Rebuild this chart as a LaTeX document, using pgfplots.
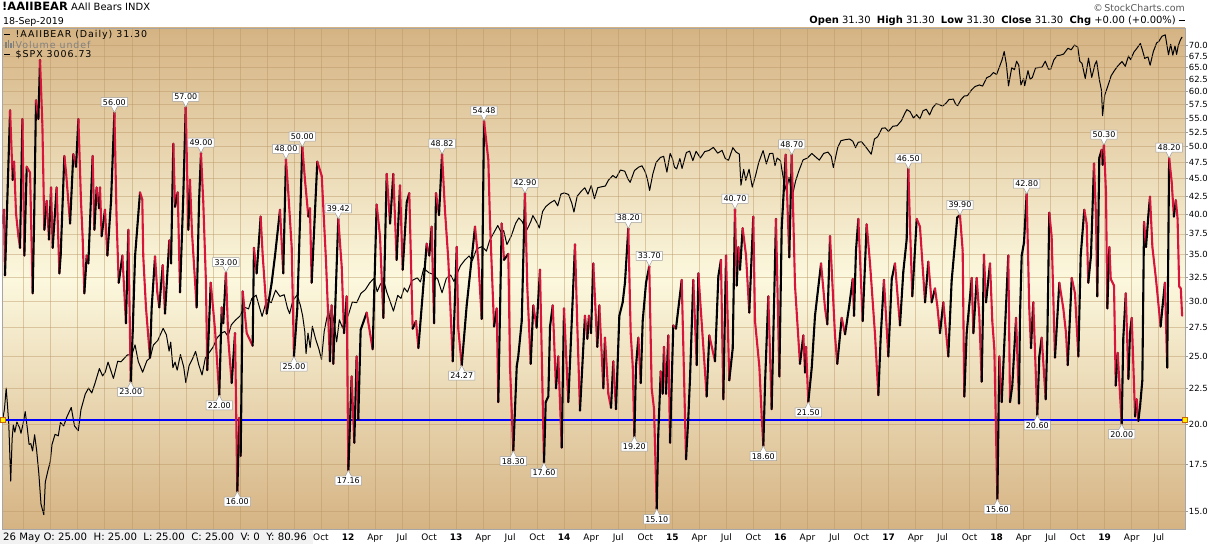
\documentclass[border=0pt]{standalone}
\usepackage{fontspec}
\setmainfont{DejaVu Sans}
\newfontfamily\legfont[LetterSpace=10]{DejaVu Sans}
\usepackage{pgfplots}
\usepackage{pgfplotstable}
\pgfplotsset{compat=1.18}
\usetikzlibrary{shapes.callouts}
\definecolor{tanc}{RGB}{213,179,131}
\definecolor{creamc}{RGB}{252,248,222}
\definecolor{gridc}{RGB}{185,150,100}
\definecolor{bearred}{RGB}{215,20,60}

\pgfplotstableread{
yr v
2008.812 38.8
2008.818 40.6
2008.827 32.7
2008.874 56.4
2008.898 44.8
2008.911 47.6
2008.929 40.1
2008.951 37.2
2008.966 35.8
2008.988 54.8
2009.006 34.9
2009.028 46.8
2009.059 45.9
2009.083 30.8
2009.096 38.8
2009.114 58.3
2009.136 54.8
2009.151 66.6
2009.173 53.6
2009.191 38.0
2009.213 41.8
2009.234 36.8
2009.253 43.7
2009.268 35.8
2009.305 43.7
2009.330 32.9
2009.342 34.9
2009.376 48.5
2009.392 45.9
2009.429 38.8
2009.459 48.8
2009.484 46.8
2009.506 54.8
2009.530 41.8
2009.546 36.8
2009.561 30.8
2009.583 34.9
2009.598 34.0
2009.638 48.5
2009.654 38.0
2009.675 43.7
2009.697 40.8
2009.706 43.7
2009.721 37.2
2009.752 40.6
2009.774 34.9
2009.808 41.8
2009.839 56.0
2009.860 39.0
2009.879 31.9
2009.913 34.9
2009.946 27.9
2009.968 38.0
2009.990 23.0
2010.008 27.0
2010.030 34.8
2010.076 43.0
2010.097 42.0
2010.106 34.8
2010.131 29.4
2010.168 24.9
2010.184 29.4
2010.215 34.8
2010.236 30.9
2010.254 29.4
2010.286 33.8
2010.307 28.8
2010.347 36.7
2010.363 34.0
2010.384 50.5
2010.400 41.0
2010.425 43.0
2010.446 30.9
2010.476 42.4
2010.499 57.0
2010.523 38.0
2010.538 44.8
2010.557 37.6
2010.600 29.4
2010.622 41.7
2010.640 49.0
2010.661 41.7
2010.686 31.9
2010.698 23.9
2010.730 31.9
2010.770 27.3
2010.809 22.0
2010.832 29.4
2010.846 27.9
2010.871 33.0
2010.893 26.4
2010.924 22.9
2010.955 27.0
2010.976 16.0
2010.994 20.4
2011.007 18.0
2011.026 31.0
2011.063 27.0
2011.118 25.9
2011.130 35.8
2011.155 32.9
2011.192 39.7
2011.211 34.9
2011.248 28.8
2011.294 31.9
2011.325 34.9
2011.371 40.6
2011.401 32.9
2011.426 48.0
2011.448 42.9
2011.479 35.9
2011.500 25.0
2011.531 29.3
2011.577 50.0
2011.602 44.8
2011.633 39.7
2011.648 40.8
2011.664 31.9
2011.716 47.6
2011.757 45.4
2011.796 34.4
2011.833 24.6
2011.849 29.6
2011.864 24.4
2011.910 39.42
2011.942 33.6
2011.963 27.0
2011.988 30.5
2012.003 17.16
2012.034 23.4
2012.058 18.8
2012.080 25.0
2012.095 20.3
2012.117 27.3
2012.173 28.9
2012.228 25.6
2012.265 41.3
2012.296 37.2
2012.327 28.4
2012.358 45.7
2012.389 38.8
2012.419 45.7
2012.450 34.4
2012.481 44.0
2012.506 33.3
2012.543 41.6
2012.567 42.9
2012.598 27.4
2012.629 28.1
2012.651 25.7
2012.728 36.3
2012.752 34.9
2012.774 38.4
2012.796 27.9
2012.814 42.9
2012.842 39.9
2012.870 48.82
2012.897 40.5
2012.928 34.4
2012.969 24.6
2013.006 35.9
2013.020 27.4
2013.052 24.27
2013.098 29.6
2013.175 38.4
2013.205 34.4
2013.237 28.3
2013.258 54.48
2013.298 47.9
2013.314 38.8
2013.351 27.6
2013.376 29.3
2013.390 21.5
2013.422 38.8
2013.443 34.4
2013.483 35.1
2013.499 24.1
2013.529 18.3
2013.561 24.2
2013.575 25.0
2013.607 28.1
2013.637 42.9
2013.659 31.3
2013.690 24.4
2013.714 29.6
2013.745 27.5
2013.776 33.3
2013.813 17.6
2013.829 21.5
2013.853 21.9
2013.869 27.6
2013.894 29.6
2013.924 22.5
2013.945 25.0
2013.977 18.5
2013.998 29.3
2014.038 21.5
2014.100 36.2
2014.121 27.7
2014.146 20.9
2014.192 28.6
2014.214 26.5
2014.229 28.6
2014.248 27.0
2014.269 34.0
2014.306 25.8
2014.325 29.6
2014.362 22.5
2014.377 26.6
2014.408 22.1
2014.433 21.1
2014.454 24.6
2014.479 21.0
2014.510 28.6
2014.541 29.9
2014.562 31.9
2014.593 38.2
2014.615 27.0
2014.634 24.2
2014.649 19.2
2014.664 24.2
2014.686 26.6
2014.708 22.9
2014.726 28.1
2014.757 31.9
2014.787 33.7
2014.809 22.5
2014.831 21.0
2014.856 15.1
2014.870 19.3
2014.893 23.8
2014.911 22.1
2014.923 25.8
2014.942 22.1
2014.963 26.8
2014.979 18.8
2015.009 27.7
2015.034 27.4
2015.087 32.2
2015.127 17.8
2015.148 20.4
2015.164 23.3
2015.194 32.2
2015.226 24.3
2015.241 32.9
2015.318 21.9
2015.342 26.8
2015.395 24.6
2015.426 32.6
2015.450 34.4
2015.472 21.7
2015.497 34.9
2015.527 23.1
2015.559 25.7
2015.580 40.7
2015.596 31.6
2015.611 35.9
2015.626 33.3
2015.651 38.2
2015.682 34.9
2015.712 28.9
2015.749 39.7
2015.765 28.1
2015.805 24.2
2015.827 20.5
2015.842 18.6
2015.858 22.9
2015.888 30.5
2015.919 21.0
2015.959 39.4
2015.990 23.4
2016.012 38.2
2016.049 48.7
2016.082 34.7
2016.105 48.7
2016.135 31.6
2016.181 24.4
2016.212 26.8
2016.228 23.7
2016.237 25.8
2016.258 21.5
2016.290 24.1
2016.320 28.6
2016.376 34.0
2016.413 29.3
2016.434 27.8
2016.459 37.2
2016.505 26.8
2016.526 24.4
2016.567 28.4
2016.598 26.9
2016.637 29.6
2016.669 32.3
2016.681 28.6
2016.699 35.5
2016.721 39.4
2016.761 28.1
2016.798 38.7
2016.829 34.0
2016.875 26.9
2016.906 22.0
2016.928 26.7
2016.958 32.2
2016.998 25.0
2017.030 32.3
2017.060 34.0
2017.106 27.7
2017.137 33.1
2017.168 36.8
2017.183 46.5
2017.199 38.4
2017.220 30.5
2017.261 39.4
2017.291 38.4
2017.338 29.9
2017.368 34.2
2017.399 29.9
2017.430 31.3
2017.451 29.6
2017.476 27.0
2017.507 29.9
2017.553 25.0
2017.584 32.1
2017.636 39.6
2017.661 39.9
2017.686 35.5
2017.701 21.9
2017.723 27.0
2017.738 28.6
2017.770 32.4
2017.785 27.0
2017.816 32.4
2017.840 28.6
2017.862 23.0
2017.883 35.0
2017.902 29.9
2017.939 34.0
2017.960 28.1
2017.979 25.6
2018.007 15.6
2018.025 25.0
2018.047 21.5
2018.108 34.9
2018.124 21.5
2018.145 22.7
2018.180 28.4
2018.207 21.4
2018.216 28.5
2018.232 34.9
2018.253 36.4
2018.278 42.8
2018.302 29.3
2018.318 25.7
2018.339 29.9
2018.376 20.6
2018.395 25.0
2018.417 26.6
2018.454 21.7
2018.469 26.3
2018.487 40.2
2018.509 37.2
2018.540 24.9
2018.580 31.9
2018.617 29.3
2018.642 27.0
2018.658 24.3
2018.695 32.4
2018.725 30.8
2018.756 25.0
2018.778 34.9
2018.811 40.6
2018.833 38.8
2018.848 31.9
2018.873 34.9
2018.901 47.3
2018.920 39.4
2018.931 30.5
2018.950 48.2
2018.972 49.5
2018.981 47.1
2018.993 50.3
2019.012 42.9
2019.024 29.3
2019.043 35.9
2019.056 32.3
2019.086 31.6
2019.102 22.7
2019.120 25.3
2019.157 20.0
2019.172 26.6
2019.195 30.8
2019.219 23.2
2019.234 27.0
2019.250 28.4
2019.281 20.5
2019.296 21.7
2019.311 20.2
2019.327 21.2
2019.348 23.1
2019.364 39.0
2019.382 35.9
2019.404 39.9
2019.419 42.4
2019.441 35.9
2019.475 32.2
2019.517 27.6
2019.535 29.5
2019.557 31.9
2019.578 24.1
2019.596 48.2
2019.619 44.6
2019.640 39.7
2019.658 41.9
2019.674 39.4
2019.689 31.5
2019.704 31.3
2019.716 28.6
}\bears

% dn = 1 when the segment leaving this point falls (drawn red), 0 when it rises (black)
\pgfplotstablecreatecol[
  create col/assign/.code={%
    \getthisrow{v}\curv
    \getnextrow{v}\nxtv
    \ifx\nxtv\empty
      \def\res{1}%
    \else
      \pgfmathparse{(\nxtv<\curv) ? 1 : 0}\let\res\pgfmathresult
    \fi
    \pgfkeyslet{/pgfplots/table/create col/next content}\res
  }]{dn}{\bears}

\pgfplotstableread{
yr s
2008.804 908
2008.822 941
2008.838 1005
2008.850 952
2008.862 899
2008.880 752
2008.893 858
2008.904 896
2008.918 876
2008.937 904
2008.962 888
2008.975 873
2008.997 903
2009.014 934
2009.032 890
2009.050 843
2009.066 845
2009.082 826
2009.101 869
2009.120 827
2009.140 770
2009.160 700
2009.186 677
2009.200 750
2009.225 778
2009.245 798
2009.262 843
2009.290 870
2009.320 866
2009.340 903
2009.370 893
2009.400 919
2009.440 946
2009.470 893
2009.505 880
2009.530 940
2009.570 987
2009.600 1005
2009.630 990
2009.660 1021
2009.700 1068
2009.730 1044
2009.755 1057
2009.780 1090
2009.830 1036
2009.870 1093
2009.900 1091
2009.930 1103
2009.960 1115
2010.000 1115
2010.030 1150
2010.060 1092
2010.080 1074
2010.100 1056
2010.140 1095
2010.170 1104
2010.200 1150
2010.240 1166
2010.290 1211
2010.320 1187
2010.345 1128
2010.360 1160
2010.380 1071
2010.400 1090
2010.420 1063
2010.450 1116
2010.480 1074
2010.500 1022
2010.530 1078
2010.560 1100
2010.590 1127
2010.620 1080
2010.650 1047
2010.680 1104
2010.720 1125
2010.750 1141
2010.790 1176
2010.830 1193
2010.860 1199
2010.890 1181
2010.920 1224
2010.960 1243
2011.000 1258
2011.040 1294
2011.080 1287
2011.110 1329
2011.150 1343
2011.180 1295
2011.205 1257
2011.250 1326
2011.290 1312
2011.330 1364
2011.370 1338
2011.410 1345
2011.440 1290
2011.460 1268
2011.490 1321
2011.530 1344
2011.560 1300
2011.580 1260
2011.600 1200
2011.612 1119
2011.630 1193
2011.650 1140
2011.670 1219
2011.700 1172
2011.730 1136
2011.755 1099
2011.780 1200
2011.820 1285
2011.840 1219
2011.860 1263
2011.895 1161
2011.920 1244
2011.950 1212
2011.980 1265
2012.000 1258
2012.040 1315
2012.080 1312
2012.120 1351
2012.160 1366
2012.200 1395
2012.240 1416
2012.270 1358
2012.300 1390
2012.330 1406
2012.360 1354
2012.390 1317
2012.420 1278
2012.460 1342
2012.490 1330
2012.520 1374
2012.550 1356
2012.590 1405
2012.640 1418
2012.670 1400
2012.700 1460
2012.750 1440
2012.790 1433
2012.830 1412
2012.870 1353
2012.910 1416
2012.950 1430
2012.980 1402
2013.000 1426
2013.040 1472
2013.080 1498
2013.120 1518
2013.150 1496
2013.190 1552
2013.240 1563
2013.280 1541
2013.310 1593
2013.350 1633
2013.385 1669
2013.420 1631
2013.440 1643
2013.470 1573
2013.510 1615
2013.550 1680
2013.580 1709
2013.610 1691
2013.650 1642
2013.690 1688
2013.710 1722
2013.750 1682
2013.770 1656
2013.800 1744
2013.830 1771
2013.870 1791
2013.910 1806
2013.940 1775
2013.970 1842
2014.000 1848
2014.040 1839
2014.070 1790
2014.090 1741
2014.120 1829
2014.160 1859
2014.190 1878
2014.220 1841
2014.250 1891
2014.280 1815
2014.310 1878
2014.340 1883
2014.380 1888
2014.410 1924
2014.450 1951
2014.480 1936
2014.520 1985
2014.560 1978
2014.590 1930
2014.610 1910
2014.650 1982
2014.690 2003
2014.720 2011
2014.750 1972
2014.770 1928
2014.790 1862
2014.820 1961
2014.850 2032
2014.890 2064
2014.920 2071
2014.950 1972
2014.980 2090
2015.000 2059
2015.020 2003
2015.040 1992
2015.070 2057
2015.090 1995
2015.130 2096
2015.160 2105
2015.190 2044
2015.220 2104
2015.260 2061
2015.300 2102
2015.340 2110
2015.380 2130
2015.420 2092
2015.460 2110
2015.490 2057
2015.520 2046
2015.560 2128
2015.590 2099
2015.620 2086
2015.635 1893
2015.660 1989
2015.680 1922
2015.710 1990
2015.740 1882
2015.770 1951
2015.800 2033
2015.840 2109
2015.870 2023
2015.900 2089
2015.930 2091
2015.950 2012
2015.970 2060
2016.000 2044
2016.030 1922
2016.055 1860
2016.080 1940
2016.110 1829
2016.140 1917
2016.170 1978
2016.210 2049
2016.250 2060
2016.290 2090
2016.330 2065
2016.360 2047
2016.400 2090
2016.440 2099
2016.470 2071
2016.490 2000
2016.530 2129
2016.560 2175
2016.600 2182
2016.640 2186
2016.670 2171
2016.695 2128
2016.720 2164
2016.750 2168
2016.790 2133
2016.840 2085
2016.870 2186
2016.900 2202
2016.940 2262
2016.970 2263
2017.000 2239
2017.040 2275
2017.080 2279
2017.120 2316
2017.150 2367
2017.170 2396
2017.200 2381
2017.230 2334
2017.260 2359
2017.290 2328
2017.320 2388
2017.350 2399
2017.380 2357
2017.410 2412
2017.440 2440
2017.470 2434
2017.500 2423
2017.530 2443
2017.560 2473
2017.600 2476
2017.620 2438
2017.640 2426
2017.670 2472
2017.700 2500
2017.730 2503
2017.770 2550
2017.800 2575
2017.840 2588
2017.870 2579
2017.910 2648
2017.940 2660
2017.970 2690
2018.000 2674
2018.030 2748
2018.050 2798
2018.070 2873
2018.090 2762
2018.110 2581
2018.140 2732
2018.165 2714
2018.185 2787
2018.205 2752
2018.225 2588
2018.250 2641
2018.260 2582
2018.290 2706
2018.310 2635
2018.330 2648
2018.360 2728
2018.390 2733
2018.420 2735
2018.450 2787
2018.480 2718
2018.500 2718
2018.530 2799
2018.560 2837
2018.590 2840
2018.620 2850
2018.660 2902
2018.690 2888
2018.720 2931
2018.750 2914
2018.770 2785
2018.790 2768
2018.820 2641
2018.850 2813
2018.880 2650
2018.910 2760
2018.925 2790
2018.950 2633
2018.970 2546
2018.980 2351
2019.000 2507
2019.030 2582
2019.060 2664
2019.090 2707
2019.120 2745
2019.160 2784
2019.190 2743
2019.220 2832
2019.240 2800
2019.270 2867
2019.300 2905
2019.330 2946
2019.350 2881
2019.370 2812
2019.400 2826
2019.420 2752
2019.450 2873
2019.480 2950
2019.500 2964
2019.530 3013
2019.560 3026
2019.590 2844
2019.610 2938
2019.630 2840
2019.650 2922
2019.665 2847
2019.680 2924
2019.700 2979
2019.716 3006
}\spx

\tikzset{
  lab/.style={rectangle callout, draw=gray!75, fill=white, line width=0.5bp,
    font=\fontsize{8}{9}\selectfont, inner xsep=1.8bp, inner ysep=1.5bp,
    callout pointer width=6bp},
}
\newcommand{\hilab}[3]{\node[lab, anchor=south, callout absolute pointer={(axis cs:#1,#2)}] at ([yshift=5.5bp]axis cs:#1,#2) {#3};}
\newcommand{\lolab}[3]{\node[lab, anchor=north, callout absolute pointer={(axis cs:#1,#2)}] at ([yshift=-5.5bp]axis cs:#1,#2) {#3};}

\begin{document}
\begin{tikzpicture}[x=1bp,y=1bp]
\useasboundingbox (0,0) rectangle (1212,544);
\fill[white] (0,0) rectangle (1212,544);
\shade[top color=tanc, bottom color=tanc, middle color=creamc] (2.5,14.5) rectangle (1185,516);

% S&P 500 overlay (own log scale)
\begin{axis}[at={(2.5bp,14.5bp)}, anchor=south west, scale only axis,
  width=1182.5bp, height=501.5bp,
  xmin=2008.8039, xmax=2019.7428,
  ymode=log, ymin=646.6, ymax=3091.7,
  axis line style={draw=none}, xtick=\empty, ytick=\empty]
\addplot[black, line width=1bp, line join=round] table[x=yr, y=s] {\spx};
\end{axis}

% AAII bears
\begin{axis}[at={(2.5bp,14.5bp)}, anchor=south west, scale only axis,
  width=1182.5bp, height=501.5bp,
  xmin=2008.8039, xmax=2019.7428,
  ymode=log, ymin=14.11, ymax=74.05,
  axis line style={draw=gray!70, line width=0.8bp},
  ytick={15,17.5,20,22.5,25,27.5,30,32.5,35,37.5,40,42.5,45,47.5,50,52.5,55,57.5,60,62.5,65,67.5,70},
  yticklabels={15.0,17.5,20.0,22.5,25.0,27.5,30.0,32.5,35.0,37.5,40.0,42.5,45.0,47.5,50.0,52.5,55.0,57.5,60.0,62.5,65.0,67.5,70.0},
  ytick pos=right, yticklabel pos=right,
  tick align=outside, major tick length=2.5bp,
  ytick style={draw=gray!80, line width=0.6bp},
  yticklabel style={font=\fontsize{8.5}{9}\selectfont, inner xsep=1.2bp},
  xtick={2011.75,2012,2012.25,...,2019.5},
  xticklabels={Oct,\textbf{12},Apr,Jul,Oct,\textbf{13},Apr,Jul,Oct,\textbf{14},Apr,Jul,Oct,\textbf{15},Apr,Jul,Oct,\textbf{16},Apr,Jul,Oct,\textbf{17},Apr,Jul,Oct,\textbf{18},Apr,Jul,Oct,\textbf{19},Apr,Jul},
  extra x ticks={2009,2009.25,...,2011.5},
  extra x tick labels={},
  extra x tick style={grid=major},
  xtick style={draw=none},
  xticklabel style={font=\fontsize{9}{10}\selectfont, inner ysep=1.5bp},
  xmajorgrids, ymajorgrids,
  major grid style={draw=gridc, line width=0.6bp, opacity=0.45},
  clip mode=individual]
\addplot[draw=blue, line width=2.2bp, mark=square*, mark size=2.5bp,
  mark options={fill=yellow, draw=orange!80!black, line width=0.5bp}]
  coordinates {(2008.8039,20.27) (2019.7428,20.27)};
\addplot[mesh, shader=flat corner, line width=2.1bp, line cap=round,
  point meta=\thisrow{dn}, point meta min=0, point meta max=1,
  colormap={ud}{color=(black) color=(bearred)}]
  table[x=yr, y=v] {\bears};
\hilab{2009.839}{56.0}{56.00}
\hilab{2010.499}{57.0}{57.00}
\hilab{2010.640}{49.0}{49.00}
\hilab{2010.871}{33.0}{33.00}
\hilab{2011.426}{48.0}{48.00}
\hilab{2011.577}{50.0}{50.00}
\hilab{2011.910}{39.42}{39.42}
\hilab{2012.870}{48.82}{48.82}
\hilab{2013.258}{54.48}{54.48}
\hilab{2013.637}{42.9}{42.90}
\hilab{2014.593}{38.2}{38.20}
\hilab{2014.787}{33.7}{33.70}
\hilab{2015.580}{40.7}{40.70}
\hilab{2016.105}{48.7}{48.70}
\hilab{2017.183}{46.5}{46.50}
\hilab{2017.661}{39.9}{39.90}
\hilab{2018.278}{42.8}{42.80}
\hilab{2018.993}{50.3}{50.30}
\hilab{2019.596}{48.2}{48.20}
\lolab{2009.990}{23.0}{23.00}
\lolab{2010.809}{22.0}{22.00}
\lolab{2010.976}{16.0}{16.00}
\lolab{2011.500}{25.0}{25.00}
\lolab{2012.003}{17.16}{17.16}
\lolab{2013.052}{24.27}{24.27}
\lolab{2013.529}{18.3}{18.30}
\lolab{2013.813}{17.6}{17.60}
\lolab{2014.649}{19.2}{19.20}
\lolab{2014.856}{15.1}{15.10}
\lolab{2015.842}{18.6}{18.60}
\lolab{2016.258}{21.5}{21.50}
\lolab{2018.007}{15.6}{15.60}
\lolab{2018.376}{20.6}{20.60}
\lolab{2019.157}{20.0}{20.00}
\end{axis}

% header
\node[anchor=base west, inner sep=0] at (2,533)
  {{\bfseries\fontsize{11.5}{12}\selectfont !AAIIBEAR} {\fontsize{10}{11}\selectfont AAll Bears INDX}};
\node[anchor=base west, inner sep=0, font=\fontsize{9.5}{10}\selectfont] at (3,519) {18-Sep-2019};
\node[anchor=base east, inner sep=0, text=black!65, font=\fontsize{9.5}{10}\selectfont] at (1185,532.5) {\textcopyright\,StockCharts.com};
\node[anchor=base east, inner sep=0, font=\fontsize{10}{11}\selectfont] at (1176,520.5)
  {\textbf{Open} 31.30\ \ \textbf{High} 31.30\ \ \textbf{Low} 31.30\ \ \textbf{Close} 31.30\ \ \textbf{Chg} +0.00 (+0.00\%)};
\draw[black, line width=1.6bp] (1178.5,523.5) -- (1184.5,523.5);

% legend in plot
\draw[black, line width=1.6bp] (4,509.5) -- (10,509.5);
\node[anchor=west, inner sep=0, font=\legfont\fontsize{9.5}{10}\selectfont] at (15.5,509.5) {!AAIIBEAR (Daily) 31.30};
\fill[gray] (5,496) rectangle (6.5,501.5);
\fill[gray] (7.5,496) rectangle (9,503.5);
\fill[gray] (10,496) rectangle (11.5,500.5);
\fill[gray] (12.5,496) rectangle (14,502.5);
\node[anchor=west, inner sep=0, text=gray, font=\legfont\fontsize{9.5}{10}\selectfont] at (15.5,499.5) {Volume undef};
\draw[black, line width=1.6bp] (4,489.5) -- (10,489.5);
\node[anchor=west, inner sep=0, font=\legfont\fontsize{9.5}{10}\selectfont] at (15.5,489.5) {\$SPX 3006.73};

% bottom info overlay
\fill[black!5] (0,0) rectangle (313,14);
\node[anchor=base west, inner sep=0, font=\fontsize{10.2}{11}\selectfont] at (3,3.5)
  {26 May O: 25.00\ \ H: 25.00\ \ L: 25.00\ \ C: 25.00\ \ V: 0\ \ Y: 80.96};
\end{tikzpicture}
\end{document}
